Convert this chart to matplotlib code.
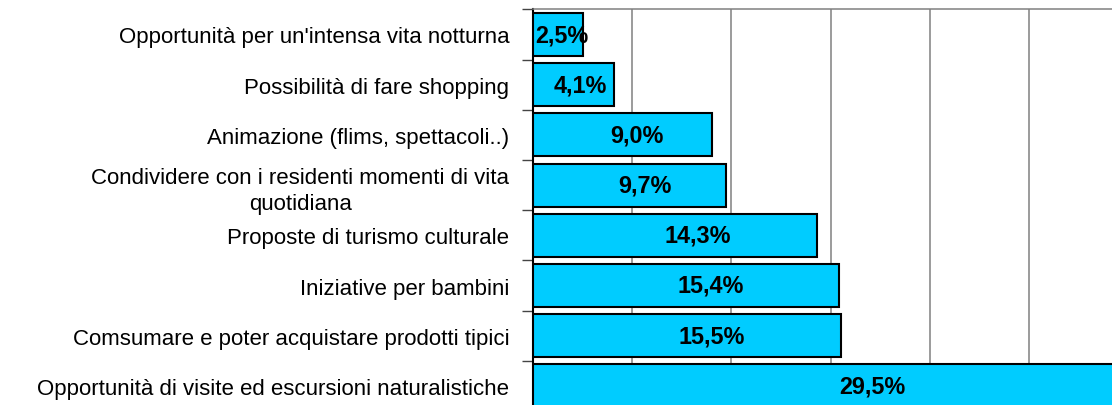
import matplotlib
matplotlib.use('Agg')
import matplotlib.pyplot as plt

# Motivi di scelta della vacanza (percentuali)
categories = [
    "Opportunità per un'intensa vita notturna",
    "Possibilità di fare shopping",
    "Animazione (flims, spettacoli..)",
    "Condividere con i residenti momenti di vita\nquotidiana",
    "Proposte di turismo culturale",
    "Iniziative per bambini",
    "Comsumare e poter acquistare prodotti tipici",
    "Opportunità di visite ed escursioni naturalistiche",
]
values = [2.5, 4.1, 9.0, 9.7, 14.3, 15.4, 15.5, 29.5]

plt.rcParams['font.family'] = ['Liberation Sans', 'DejaVu Sans']

fig = plt.figure(figsize=(11.12, 4.06), dpi=100)
# l'area del grafico prosegue oltre il bordo destro e inferiore
ax = fig.add_axes([533 / 1112, -6 / 406, 579 / 1112, 401.6 / 406])

ypos = list(range(len(values)))
ax.barh(ypos, values, height=0.855, color='#00CCFF', edgecolor='black',
        linewidth=1.5, zorder=3)

# etichette dei valori dentro le barre
for y, v in zip(ypos, values):
    ax.text(v * 0.58, y, f"{v:.1f}%".replace('.', ','), ha='center', va='center',
            fontsize=16.8, fontweight='bold', color='black', zorder=4)

ax.set_ylim(len(values) - 0.5, -0.5)
ax.set_xlim(0, 29.17)

ax.set_yticks([y - 0.5 for y in ypos] + [len(values) - 0.5])
ax.set_yticklabels([])
ax.set_yticks(ypos, minor=True)
ax.set_yticklabels(categories, minor=True, fontsize=16, multialignment='center',
                   linespacing=1.35)
ax.tick_params(axis='y', which='major', length=8, width=1, color='#444444', direction='out')
ax.tick_params(axis='y', which='minor', length=0, pad=17)

ax.set_xticks([5, 10, 15, 20, 25])
ax.tick_params(axis='x', length=0, labelbottom=False)
ax.grid(axis='x', color='#808080', linewidth=1.1, zorder=0)

ax.spines['left'].set_linewidth(1.5)
ax.spines['left'].set_color('black')
ax.spines['top'].set_color('#808080')
ax.spines['top'].set_linewidth(1.1)
ax.spines['right'].set_visible(False)
ax.spines['bottom'].set_visible(False)

fig.savefig('out.png', dpi=100)
